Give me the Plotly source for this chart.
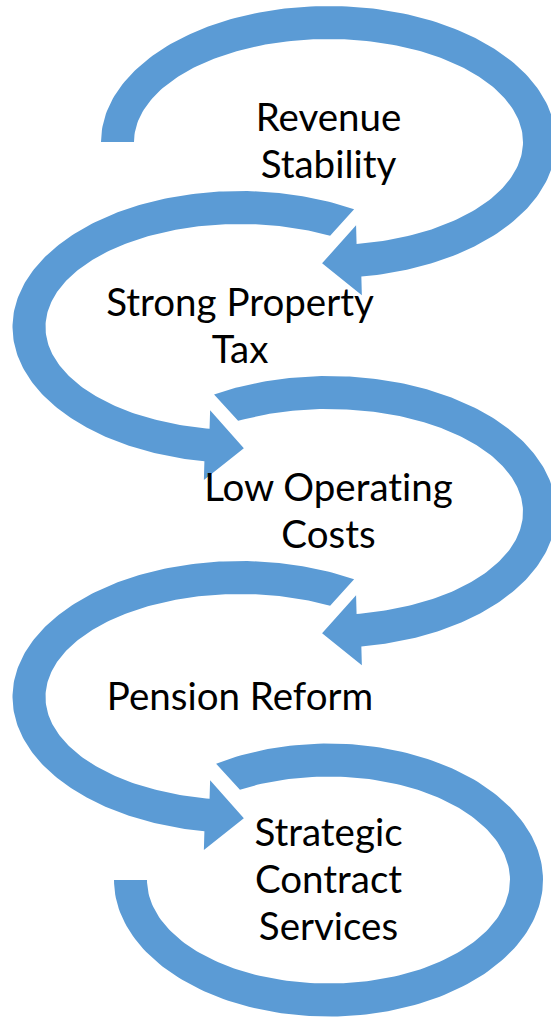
import numpy as np
import plotly.graph_objects as go

# ---- content ----
labels = [
    ["Revenue", "Stability"],
    ["Strong Property", "Tax"],
    ["Low Operating", "Costs"],
    ["Pension Reform"],
    ["Strategic", "Contract", "Services"],
]

# ---- geometry of each curved arrow (pixel space) ----
ring_cx = [328.5, 240.0, 328.5, 240.0, 328.5]
ring_cy = [142.0, 327.0, 512.0, 697.0, 880.0]
ring_rx = [211.0, 211.0, 211.0, 211.0, 198.0]
ring_ry = [119.5, 119.5, 119.5, 119.5, 120.0]
t_start_outer = [180.0, 59.9, 120.2, 59.9, 121.6]
t_start_inner = [180.0, 62.4, 117.7, 62.4, 119.2]
t_end = [-81.7, 261.0, -81.7, 261.0, -180.0]
end_arrow = [True, True, True, True, False]

HALF = 16.5      # half band thickness
HEAD_HW = 35.0   # arrowhead half width
HEAD_LEN = 37.0  # arrowhead length
LINE_GAP = 47.0
TEXT_DY = 3.0
FONT_SIZE = 38.5
COLOR = "#5B9BD5"

W, H = 551, 1017


def pt(cx, cy, rx, ry, t):
    t = np.radians(t)
    return cx + rx * np.cos(t), cy - ry * np.sin(t)


fig = go.Figure()

for i in range(len(labels)):
    cx, cy, rx, ry = ring_cx[i], ring_cy[i], ring_rx[i], ring_ry[i]
    rxo, ryo = rx + HALF, ry + HALF
    rxi, ryi = rx - HALF, ry - HALF
    n = 200
    to = np.linspace(t_start_outer[i], t_end[i], n)
    ti = np.linspace(t_end[i], t_start_inner[i], n)
    ox, oy = pt(cx, cy, rxo, ryo, to)
    ix, iy = pt(cx, cy, rxi, ryi, ti)
    xs = list(ox)
    ys = list(oy)
    if end_arrow[i]:
        t1 = np.radians(t_end[i])
        sgn = 1.0 if t_end[i] > t_start_outer[i] else -1.0
        dx = -sgn * rx * np.sin(t1)
        dy = -sgn * ry * np.cos(t1)
        L = np.hypot(dx, dy)
        dx, dy = dx / L, dy / L
        px, py = pt(cx, cy, rx, ry, t_end[i])
        ux = ox[-1] - ix[0]
        uy = oy[-1] - iy[0]
        nx, ny = -dy, dx
        if nx * ux + ny * uy < 0:
            nx, ny = -nx, -ny
        xs += [px + HEAD_HW * nx, px + HEAD_LEN * dx, px - HEAD_HW * nx]
        ys += [py + HEAD_HW * ny, py + HEAD_LEN * dy, py - HEAD_HW * ny]
    xs += list(ix)
    ys += list(iy)
    fig.add_trace(go.Scatter(
        x=xs, y=ys, mode="lines", fill="toself", fillcolor=COLOR,
        line=dict(width=0, color=COLOR), hoverinfo="skip", showlegend=False,
    ))

# ---- text ----
for i, lines in enumerate(labels):
    m = len(lines)
    ys = [ring_cy[i] + TEXT_DY + (k - (m - 1) / 2) * LINE_GAP for k in range(m)]
    fig.add_trace(go.Scatter(
        x=[ring_cx[i]] * m, y=ys, mode="text", text=lines,
        textposition="middle center",
        textfont=dict(family="Lato", size=FONT_SIZE, color="black"),
        hoverinfo="skip", showlegend=False,
    ))

fig.update_layout(
    width=W, height=H,
    margin=dict(l=0, r=0, t=0, b=0),
    paper_bgcolor="white", plot_bgcolor="white",
    xaxis=dict(range=[0, W], visible=False, fixedrange=True),
    yaxis=dict(range=[H, 0], visible=False, fixedrange=True),
)

post = (
    "document.body.style.margin='0px';"
    "document.body.style.overflow='hidden';"
    "var s=document.createElement('style');"
    "s.textContent='text{font-variant-ligatures:none !important;font-feature-settings:\"liga\" 0,\"clig\" 0 !important;}';"
    "document.head.appendChild(s);"
)

fig.write_html(
    "out.html",
    config={"displayModeBar": False},
    post_script=post,
)
